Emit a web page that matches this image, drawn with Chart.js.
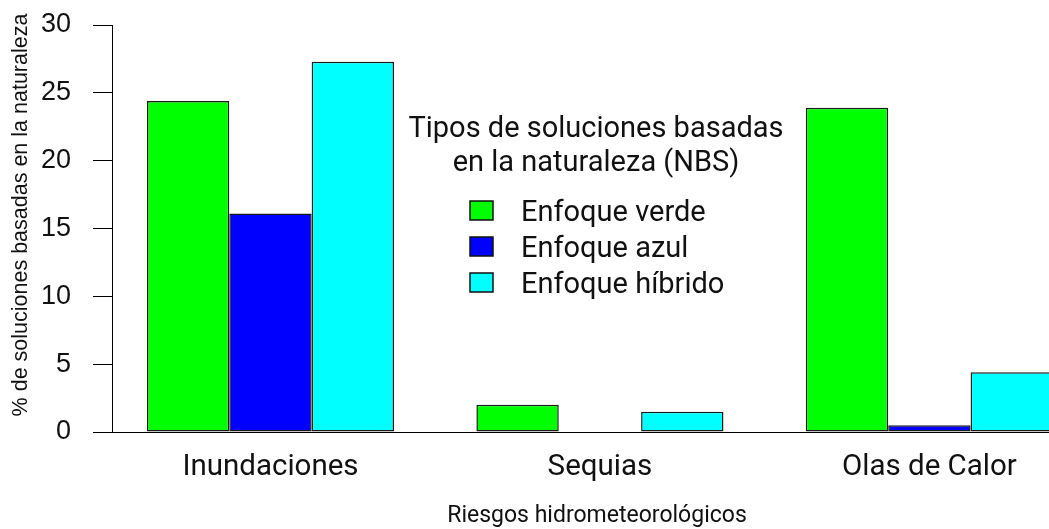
<!DOCTYPE html>
<html>
<head>
<meta charset="utf-8">
<script src="https://cdn.jsdelivr.net/npm/chart.js@4"></script>
<style>
  html, body { margin: 0; padding: 0; background: #fff; }
  canvas { display: block; }
</style>
</head>
<body>
<canvas id="chart" width="1049" height="529"></canvas>
<script>
// data
const categorias = ["Inundaciones", "Sequias", "Olas de Calor"];
const verde = [24.4, 2.0, 23.9];
const azul = [16.1, 0, 0.5];
const hibrido = [27.3, 1.5, 4.4];
const nombres = ["Enfoque verde", "Enfoque azul", "Enfoque híbrido"];
const colores = ["#00ff00", "#0000ff", "#00ffff"];
const yTicks = [0, 5, 10, 15, 20, 25, 30];

const legendTitle = ["Tipos de soluciones basadas", "en la naturaleza (NBS)"];
const xTitle = "Riesgos hidrometeorológicos";
const yTitle = "% de soluciones basadas en la naturaleza";

const toPoints = (vals) => vals.map((v, i) => ({ x: i, y: v }));

// legend + axis titles drawn by hand, placed like the R plot
const extras = {
  id: "extras",
  afterDraw(chart) {
    const ctx = chart.ctx;
    ctx.save();
    ctx.fillStyle = "#111";

    // y title
    ctx.font = "21.5px 'Liberation Sans', Arial, sans-serif";
    ctx.textAlign = "center";
    ctx.textBaseline = "alphabetic";
    ctx.save();
    ctx.translate(27, 215);
    ctx.rotate(-Math.PI / 2);
    ctx.fillText(yTitle, 0, 0);
    ctx.restore();

    // x title
    ctx.font = "23px Roboto, sans-serif";
    ctx.fillText(xTitle, 597, 522);

    // legend
    ctx.font = "29px Roboto, sans-serif";
    ctx.fillText(legendTitle[0], 596, 137);
    ctx.fillText(legendTitle[1], 596, 171);
    ctx.textAlign = "left";
    chart.data.datasets.forEach((ds, i) => {
      const base = 221 + i * 36;
      ctx.fillStyle = ds.backgroundColor;
      ctx.fillRect(470, base - 20, 23, 19);
      ctx.strokeStyle = "#111";
      ctx.lineWidth = 1.5;
      ctx.strokeRect(470, base - 20, 23, 19);
      ctx.fillStyle = "#111";
      ctx.fillText(ds.label, 521, base);
    });
    ctx.restore();
  }
};

new Chart(document.getElementById("chart"), {
  type: "bar",
  data: {
    datasets: [verde, azul, hibrido].map((vals, i) => ({
      label: nombres[i],
      data: toPoints(vals),
      backgroundColor: colores[i],
      borderColor: "#1a1a1a",
      borderWidth: 1.5,
      borderSkipped: false,
      categoryPercentage: 0.75,
      barPercentage: 1
    }))
  },
  options: {
    responsive: false,
    animation: false,
    layout: { padding: { top: 25, left: 0, right: 0, bottom: 0 } },
    plugins: {
      legend: { display: false },
      tooltip: { enabled: false }
    },
    scales: {
      x: {
        type: "linear",
        offset: false,
        min: -0.481,
        max: 2.363,
        afterBuildTicks: (s) => { s.ticks = categorias.map((c, i) => ({ value: i })); },
        afterFit: (s) => {
          s.height = 97;
          s.paddingLeft = 0;
          s.paddingRight = 0;
        },
        grid: { display: false, drawTicks: false, tickLength: 0 },
        border: { display: true, color: "#000", width: 1 },
        ticks: {
          autoSkip: false,
          maxRotation: 0,
          padding: 18,
          color: "#111",
          font: { family: "Roboto", size: 29.5 },
          callback: (v) => categorias[Math.round(v)]
        }
      },
      y: {
        min: 0,
        max: 30,
        afterBuildTicks: (s) => { s.ticks = yTicks.map((v) => ({ value: v })); },
        afterFit: (s) => {
          s.width = 112;
          s.paddingTop = 0;
          s.paddingBottom = 0;
        },
        grid: {
          display: true,
          drawOnChartArea: false,
          drawTicks: true,
          tickLength: 19,
          color: "#000",
          lineWidth: 1
        },
        border: { display: true, color: "#000", width: 1 },
        ticks: {
          padding: 22,
          color: "#111",
          font: { family: "'Liberation Sans', Arial, sans-serif", size: 27 }
        }
      }
    }
  },
  plugins: [extras]
});
</script>
</body>
</html>
